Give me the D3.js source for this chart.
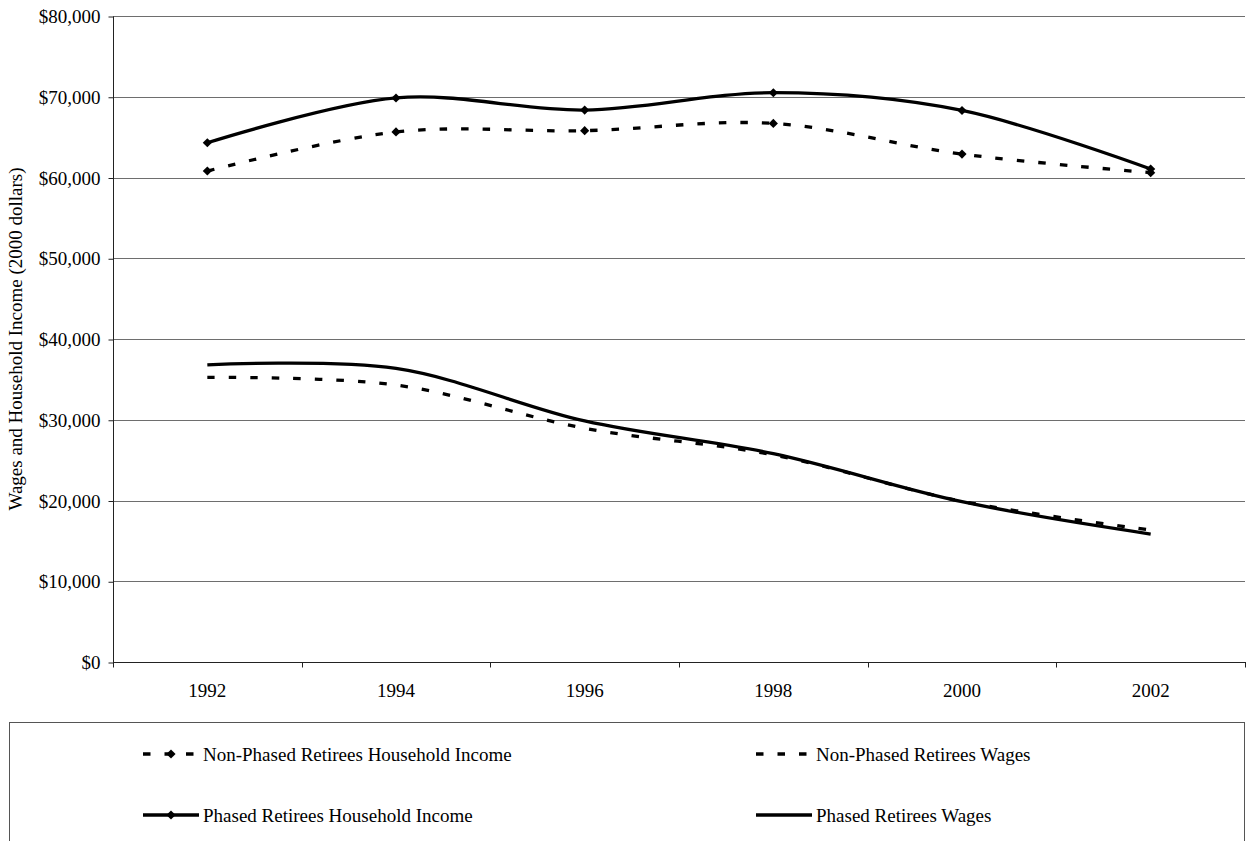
<!DOCTYPE html>
<html>
<head>
<meta charset="utf-8">
<script src="https://cdn.jsdelivr.net/npm/d3@7"></script>
<style>
  html, body { margin: 0; padding: 0; background: #fff; }
  svg { display: block; }
  text { font-family: "Liberation Serif", "Times New Roman", serif; fill: #000; }
</style>
</head>
<body>
<svg id="chart" width="1246" height="841"></svg>
<script>
// Survey years
const years = ["1992", "1994", "1996", "1998", "2000", "2002"];

// Household income and wages, in 2000 dollars
const nonPhasedHousehold = [60800, 65650, 65800, 66700, 62900, 60600];
const phasedHousehold    = [64300, 69850, 68350, 70500, 68300, 61050];
const nonPhasedWages     = [35250, 34300, 28950, 25650, 19900, 16350];
const phasedWages        = [36800, 36350, 29850, 25800, 19850, 15850];

// Value axis ticks
const yTicks = [0, 10000, 20000, 30000, 40000, 50000, 60000, 70000, 80000];

const yTitle = "Wages and Household Income (2000 dollars)";

const series = [
  { name: "Non-Phased Retirees Household Income", values: nonPhasedHousehold, dashed: true,  marker: true },
  { name: "Non-Phased Retirees Wages",            values: nonPhasedWages,     dashed: true,  marker: false },
  { name: "Phased Retirees Household Income",     values: phasedHousehold,    dashed: false, marker: true },
  { name: "Phased Retirees Wages",                values: phasedWages,        dashed: false, marker: false }
];

const svg = d3.select("#chart");
const plot = { left: 113, right: 1245, top: 16, bottom: 662 };
const DASH = "7.5,14";
const FONT = 19;

const x = d3.scaleBand().domain(years).range([plot.left, plot.right]).padding(0);
const xc = d => x(d) + x.bandwidth() / 2;
const y = d3.scaleLinear().domain([0, 80000]).range([plot.bottom, plot.top]);

// Horizontal gridlines
svg.append("g")
  .selectAll("line")
  .data(yTicks.filter(v => v > 0))
  .join("line")
  .attr("x1", plot.left).attr("x2", plot.right)
  .attr("y1", d => Math.round(y(d)) + 0.5).attr("y2", d => Math.round(y(d)) + 0.5)
  .attr("stroke", "#6e6e6e").attr("stroke-width", 1);

// Value axis
const fmt = d3.format("$,.0f");
const yAxis = svg.append("g")
  .attr("transform", `translate(${plot.left + 0.5},0.5)`)
  .call(d3.axisLeft(y).tickValues(yTicks).tickFormat(fmt).tickSize(5).tickPadding(8));
yAxis.select(".domain").attr("stroke", "#222").attr("d", `M0,${y(80000)}V${y(0)}`);
yAxis.selectAll(".tick line").attr("stroke", "#222");
yAxis.selectAll(".tick text")
  .style("font-family", "'Liberation Serif', serif")
  .style("font-size", FONT + "px")
  .attr("fill", "#000");

// Category axis: tick marks on band edges, labels centred in bands
const edges = d3.scaleLinear().domain([0, years.length]).range([plot.left, plot.right]);
const xAxis = svg.append("g").attr("transform", `translate(0,${plot.bottom + 0.5})`);
xAxis.append("line")
  .attr("x1", plot.left).attr("x2", plot.right + 1)
  .attr("stroke", "#222");
xAxis.selectAll("line.tk")
  .data(d3.range(years.length + 1))
  .join("line")
  .attr("class", "tk")
  .attr("x1", d => Math.round(edges(d)) + 0.5).attr("x2", d => Math.round(edges(d)) + 0.5)
  .attr("y1", 0).attr("y2", 5)
  .attr("stroke", "#222");
xAxis.selectAll("text")
  .data(years)
  .join("text")
  .attr("x", d => xc(d))
  .attr("y", 34)
  .attr("text-anchor", "middle")
  .style("font-size", FONT + "px")
  .text(d => d);

// Value axis title
svg.append("text")
  .attr("transform", `translate(22,${(plot.top + plot.bottom) / 2}) rotate(-90)`)
  .attr("text-anchor", "middle")
  .style("font-size", FONT + "px")
  .text(yTitle);

// Smoothed series lines
const line = d3.line()
  .x((d, i) => xc(years[i]))
  .y(d => y(d))
  .curve(d3.curveCardinal.tension(0));

const diamond = d3.symbol().type(d3.symbolSquare).size(42);

const lines = svg.append("g");
series.forEach(s => {
  lines.append("path")
    .datum(s.values)
    .attr("d", line)
    .attr("fill", "none")
    .attr("stroke", "#000")
    .attr("stroke-width", 3.3)
    .attr("stroke-dasharray", s.dashed ? DASH : null)
    .attr("stroke-linejoin", "round");
  if (s.marker) {
    lines.append("g")
      .selectAll("path")
      .data(s.values)
      .join("path")
      .attr("d", diamond)
      .attr("transform", (d, i) => `translate(${xc(years[i])},${y(d)}) rotate(45)`)
      .attr("fill", "#000");
  }
});

// Legend
const legend = svg.append("g");
legend.append("rect")
  .attr("x", 9.5).attr("y", 722.5)
  .attr("width", 1235).attr("height", 140)
  .attr("fill", "#fff").attr("stroke", "#555").attr("stroke-width", 1);

const legendCols = [143, 756];
const legendRows = [754, 815];
const swatch = 56;
series.forEach((s, i) => {
  const gx = legendCols[i % 2];
  const gy = legendRows[Math.floor(i / 2)];
  const g = legend.append("g").attr("transform", `translate(${gx},${gy})`);
  g.append("line")
    .attr("x1", 0).attr("x2", swatch)
    .attr("y1", 0).attr("y2", 0)
    .attr("stroke", "#000").attr("stroke-width", 3.3)
    .attr("stroke-dasharray", s.dashed ? DASH : null);
  if (s.marker) {
    g.append("path")
      .attr("d", diamond)
      .attr("transform", `translate(${swatch / 2},0) rotate(45)`)
      .attr("fill", "#000");
  }
  g.append("text")
    .attr("x", swatch + 4)
    .attr("y", 6.5)
    .style("font-size", FONT + "px")
    .text(s.name);
});
</script>
</body>
</html>
